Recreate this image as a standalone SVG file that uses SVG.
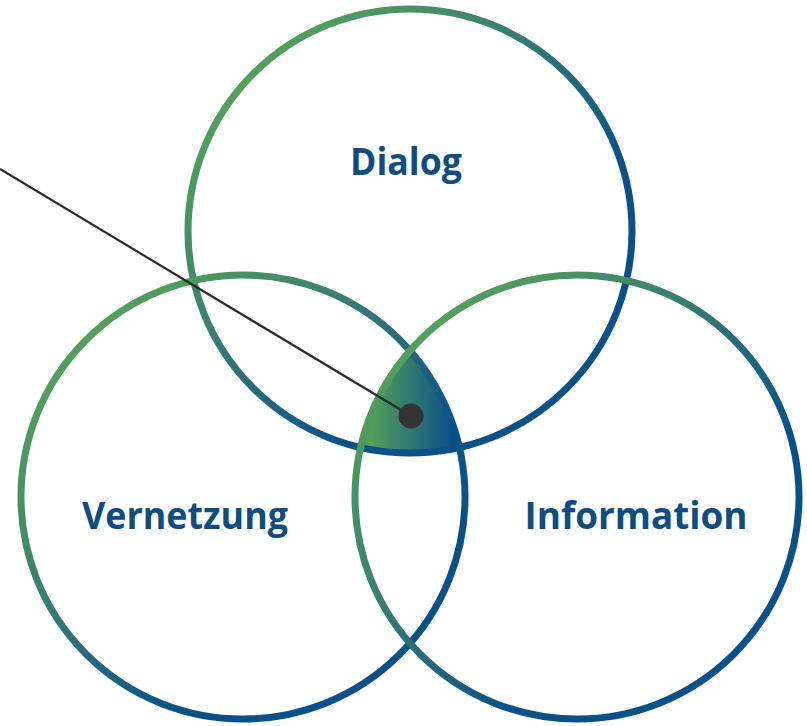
<svg xmlns="http://www.w3.org/2000/svg" width="807" height="726" viewBox="0 0 807 726">
  <defs>
    <linearGradient id="ringGrad" x1="0" y1="0" x2="1" y2="1">
      <stop offset="0.12" stop-color="#55a25a"/>
      <stop offset="0.38" stop-color="#3b7f70"/>
      <stop offset="0.66" stop-color="#0b5188"/>
    </linearGradient>
    <linearGradient id="coreGrad" x1="0" y1="0" x2="1" y2="0">
      <stop offset="0.1" stop-color="#51a05a"/>
      <stop offset="0.95" stop-color="#0b4e88"/>
    </linearGradient>
    <style>
      .ring { fill: none; stroke: url(#ringGrad); stroke-width: 7; }
      .label { font-family: "Open Sans", "Noto Sans", "Liberation Sans", sans-serif; font-weight: bold; font-size: 37px; fill: #0e4d80; text-anchor: middle; }
    </style>
  </defs>

  <!-- shared centre of all three circles -->
  <path id="core" d="M 410 350.7 A 222 222 0 0 0 360.6 447.4 A 222 222 0 0 0 459.4 447.4 A 222 222 0 0 0 410 350.7 Z" fill="url(#coreGrad)"/>

  <g id="dialog">
    <circle class="ring" cx="410" cy="231" r="222"/>
    <text class="label" x="406" y="175" textLength="112" lengthAdjust="spacingAndGlyphs">Dialog</text>
  </g>
  <g id="vernetzung">
    <circle class="ring" cx="243" cy="497" r="222"/>
    <text class="label" x="185" y="529" textLength="206" lengthAdjust="spacingAndGlyphs">Vernetzung</text>
  </g>
  <g id="information">
    <circle class="ring" cx="577" cy="497" r="222"/>
    <text class="label" x="636" y="529" textLength="223" lengthAdjust="spacingAndGlyphs">Information</text>
  </g>

  <g id="connectors">
    <line x1="0" y1="169" x2="411" y2="416" stroke="#2b2b2b" stroke-width="2.2"/>
    <circle cx="411" cy="416" r="12.5" fill="#333333"/>
  </g>
</svg>
